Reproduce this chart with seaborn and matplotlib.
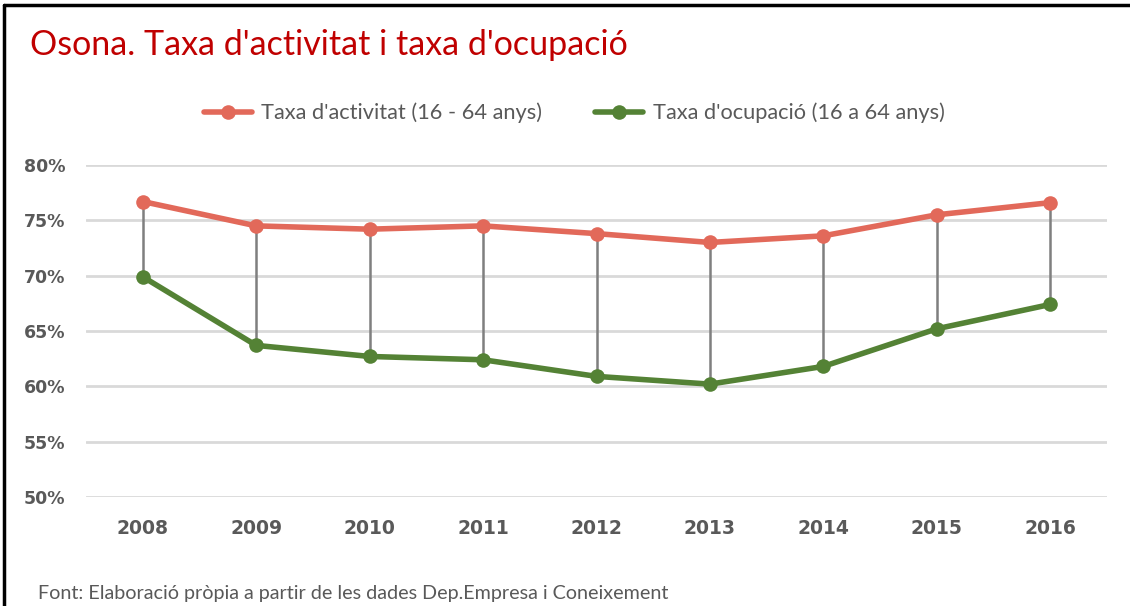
import matplotlib
matplotlib.use("Agg")
from matplotlib import pyplot as plt
from matplotlib.lines import Line2D
import seaborn as sns
import pandas as pd

# data
years = ["2008", "2009", "2010", "2011", "2012", "2013", "2014", "2015", "2016"]
activitat = [76.7, 74.5, 74.2, 74.5, 73.8, 73.0, 73.6, 75.5, 76.6]
ocupacio = [69.9, 63.7, 62.7, 62.4, 60.9, 60.2, 61.8, 65.2, 67.4]
serie_act = "Taxa d'activitat (16 - 64 anys)"
serie_ocu = "Taxa d'ocupació (16 a 64 anys)"
yticks = [50, 55, 60, 65, 70, 75, 80]

title = "Osona. Taxa d'activitat i taxa d'ocupació"
footer = "Font: Elaboració pròpia a partir de les dades Dep.Empresa i Coneixement"

red = "#E2695A"
green = "#548235"
grey_txt = "#595959"

sns.set_theme(style="white")
plt.rcParams["font.family"] = ["Lato", "DejaVu Sans"]

df = pd.DataFrame({
    "Any": years * 2,
    "Taxa": activitat + ocupacio,
    "Serie": [serie_act] * len(years) + [serie_ocu] * len(years),
})

fig = plt.figure(figsize=(11.3, 6.06), dpi=100)
ax = fig.add_axes([86 / 1130, 1 - 497 / 606, (1107 - 86) / 1130, (497 - 165) / 606])

# high-low lines between the two series
ax.vlines(years, ocupacio, activitat, color="#7F7F7F", linewidth=1.8, zorder=2)

sns.lineplot(data=df, x="Any", y="Taxa", hue="Serie",
             palette={serie_act: red, serie_ocu: green},
             marker="o", markersize=10.5, markeredgewidth=0,
             linewidth=4, sort=False, legend=False, ax=ax, zorder=3)
for ln in ax.lines:
    ln.set_clip_on(False)

ax.set_xlim(-0.5, len(years) - 0.5)
ax.set_ylim(50, 80)
ax.set_yticks(yticks)
ax.set_yticklabels([f"{v}%" for v in yticks])
ax.yaxis.grid(True, color="#D9D9D9", linewidth=2)
ax.set_axisbelow(True)
for s in ax.spines.values():
    s.set_visible(False)
ax.set_xlabel("")
ax.set_ylabel("")
ax.tick_params(axis="both", length=0, colors=grey_txt)
ax.tick_params(axis="y", pad=15)
ax.tick_params(axis="x", pad=16)
for lab in ax.get_yticklabels():
    lab.set_fontfamily("DejaVu Sans")
    lab.set_fontweight("bold")
    lab.set_fontsize(12.5)
for lab in ax.get_xticklabels():
    lab.set_fontfamily("DejaVu Sans")
    lab.set_fontweight("bold")
    lab.set_fontsize(13.5)

handles = [
    Line2D([], [], color=red, linewidth=4, marker="o", markersize=10.5, markeredgewidth=0),
    Line2D([], [], color=green, linewidth=4, marker="o", markersize=10.5, markeredgewidth=0),
]
fig.legend(handles, [serie_act, serie_ocu], loc="center",
           bbox_to_anchor=(574 / 1130, 1 - 113 / 606), ncol=2, frameon=False,
           fontsize=15.7, handlelength=2.2, handletextpad=0.45, columnspacing=2.4,
           labelcolor=grey_txt)

fig.text(30 / 1130, 1 - 45 / 606, title, color="#C00000", fontsize=24.5,
         va="center", ha="left")
fig.text(38 / 1130, 1 - 593 / 606, footer, color=grey_txt, fontsize=14.2,
         va="center", ha="left")

# frame on the top and left edges as in the screenshot
fig.add_artist(Line2D([4 / 1130, 1], [1 - 5 / 606, 1 - 5 / 606], color="black", linewidth=2.5))
fig.add_artist(Line2D([4 / 1130, 4 / 1130], [0, 1 - 5 / 606], color="black", linewidth=2.5))

fig.savefig("out.png", dpi=100)
